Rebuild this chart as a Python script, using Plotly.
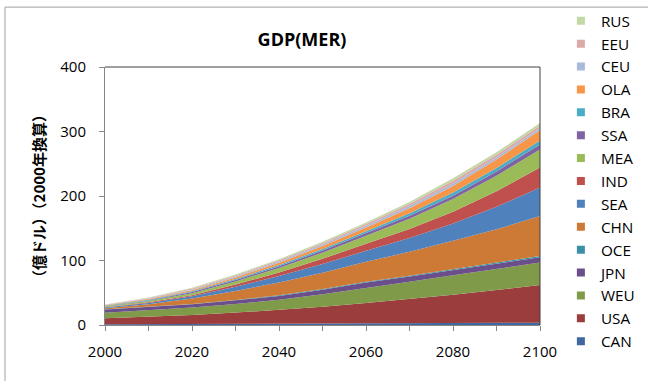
import plotly.graph_objects as go

years = [2000, 2010, 2020, 2030, 2040, 2050, 2060, 2070, 2080, 2090, 2100]

# Series values, bottom of the stack first
CAN = [1.0, 1.2, 1.5, 1.7, 2.0, 2.2, 2.5, 2.7, 3.0, 3.2, 3.5]
USA = [9.5, 11.6, 14.0, 17.5, 21.5, 26.0, 31.5, 37.5, 44.0, 51.0, 58.5]
WEU = [8.5, 10.0, 11.5, 13.5, 15.5, 19.5, 24.0, 27.0, 30.0, 32.5, 35.0]
JPN = [5.0, 5.0, 5.0, 5.5, 6.0, 7.0, 8.0, 8.0, 8.0, 8.0, 8.0]
OCE = [0.5, 0.5, 0.5, 0.7, 1.0, 1.0, 1.0, 1.2, 1.5, 1.7, 2.0]
CHN = [1.5, 4.0, 8.5, 14.0, 20.0, 25.5, 31.0, 37.0, 44.0, 52.0, 62.0]
SEA = [1.0, 2.0, 3.5, 6.5, 10.0, 13.5, 17.0, 21.5, 27.0, 35.0, 44.0]
IND = [0.6, 1.0, 1.8, 3.3, 5.5, 8.0, 11.0, 14.0, 18.0, 24.0, 31.0]
MEA = [1.0, 1.8, 3.0, 4.8, 7.0, 9.5, 12.5, 16.0, 20.0, 24.0, 28.0]
SSA = [0.5, 1.0, 1.7, 2.1, 2.5, 3.2, 4.0, 4.5, 5.0, 6.5, 8.0]
BRA = [0.7, 1.0, 1.3, 1.6, 2.0, 2.5, 3.0, 4.0, 5.0, 5.5, 6.0]
OLA = [1.0, 1.3, 1.7, 2.5, 3.4, 4.4, 5.5, 7.5, 10.0, 13.0, 16.0]
CEU = [0.3, 0.7, 1.2, 1.5, 1.9, 2.4, 3.0, 3.5, 4.0, 3.5, 3.0]
EEU = [0.3, 0.7, 1.2, 1.5, 1.9, 2.2, 2.5, 3.2, 4.0, 4.0, 4.0]
RUS = [0.3, 0.8, 1.3, 1.5, 1.8, 2.2, 2.5, 3.2, 4.0, 4.0, 4.0]

region_names = ["CAN", "USA", "WEU", "JPN", "OCE", "CHN", "SEA", "IND",
                "MEA", "SSA", "BRA", "OLA", "CEU", "EEU", "RUS"]
region_values = [CAN, USA, WEU, JPN, OCE, CHN, SEA, IND,
                 MEA, SSA, BRA, OLA, CEU, EEU, RUS]
region_colors = ["#3F67A0", "#9B3D3C", "#7F9A48", "#6A4F8A", "#3A90A8",
                 "#CD7A36", "#4F81BD", "#C0504D", "#9BBB59", "#8064A2",
                 "#4BACC6", "#F79646", "#A9B9D9", "#DBA9A8", "#C4D7A6"]

x_tickvals = [2000, 2010, 2020, 2030, 2040, 2050, 2060, 2070, 2080, 2090, 2100]
x_ticktext = ["2000", "", "2020", "", "2040", "", "2060", "", "2080", "", "2100"]
y_tickvals = [0, 100, 200, 300, 400]

title_text = "GDP(MER)"
y_title = "（億ドル）（2000年換算）"

fig = go.Figure()
for name, vals, col in zip(region_names, region_values, region_colors):
    fig.add_trace(go.Scatter(
        x=years, y=vals, name=name, stackgroup="one", mode="lines",
        line=dict(width=0, color=col), fillcolor=col, showlegend=False,
    ))
# legend entries (square swatches)
for name, col in zip(region_names, region_colors):
    fig.add_trace(go.Scatter(
        x=[None], y=[None], name=name, mode="markers",
        marker=dict(symbol="square", size=8, color=col), showlegend=True,
    ))

font_family = "Open Sans, Noto Sans, sans-serif"

fig.update_layout(
    width=648, height=381,
    margin=dict(l=105, r=108, t=67, b=56, autoexpand=False),
    paper_bgcolor="white", plot_bgcolor="white",
    font=dict(family=font_family, size=15, color="black"),
    title=dict(text=f"<b>{title_text}</b>", x=302/648, xref="container",
               xanchor="center", y=1-40/381, yref="container", yanchor="middle",
               font=dict(size=18, family=font_family, color="black")),
    legend=dict(traceorder="reversed", x=1.048, xanchor="left", y=1.243,
                yanchor="top", font=dict(size=15.3, family=font_family),
                bgcolor="rgba(0,0,0,0)", borderwidth=0, maxheight=375),
    showlegend=True,
    xaxis=dict(range=[2000, 2100], tickmode="array", tickvals=x_tickvals,
               ticktext=x_ticktext, ticks="outside", ticklen=5,
               tickcolor="#868686", showline=True, linecolor="#868686",
               showgrid=False, zeroline=False, ticklabelstandoff=8,
               tickfont=dict(size=15)),
    yaxis=dict(range=[0, 400], tickmode="array", tickvals=y_tickvals,
               ticks="outside", ticklen=5, tickcolor="#868686",
               showline=True, linecolor="#868686", showgrid=False,
               zeroline=False, ticklabelstandoff=10, tickfont=dict(size=15),
               title=dict(text=f"<b>{y_title}</b>", standoff=11,
                          font=dict(size=15, family="Noto Sans CJK JP"))),
)

# plot-area frame (top and right) and chart-area border
fig.add_shape(type="line", xref="paper", yref="paper", x0=0, x1=1, y0=1, y1=1,
              line=dict(color="#404040", width=1), layer="above")
fig.add_shape(type="line", xref="paper", yref="paper", x0=1, x1=1, y0=0, y1=1,
              line=dict(color="#404040", width=1), layer="above")
fig.add_shape(type="rect", xref="paper", yref="paper",
              x0=(5-105)/435, x1=1.5, y0=-0.5, y1=(325.5-7)/258.5,
              line=dict(color="#A0A0A0", width=1), layer="below")

fig.write_html("out.html")
